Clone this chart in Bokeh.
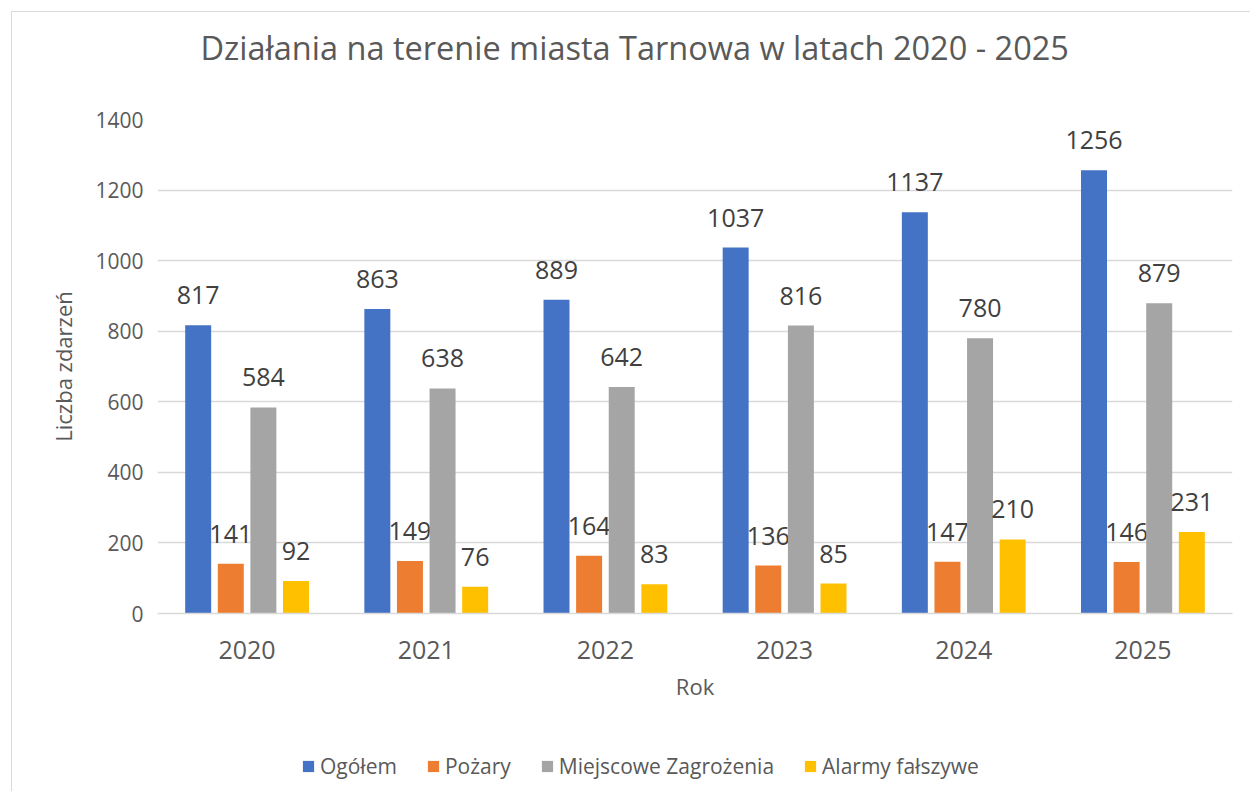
from bokeh.plotting import figure
from bokeh.models import ColumnDataSource, FactorRange, Legend, LegendItem, Title, Range1d
from bokeh.layouts import column
from bokeh.transform import dodge
from bokeh.core.properties import value
from bokeh.embed import file_html
from bokeh.resources import INLINE

years = ["2020", "2021", "2022", "2023", "2024", "2025"]
series_names = ["Ogółem", "Pożary", "Miejscowe Zagrożenia", "Alarmy fałszywe"]
ogolem = [817, 863, 889, 1037, 1137, 1256]
pozary = [141, 149, 164, 136, 147, 146]
miejscowe = [584, 638, 642, 816, 780, 879]
alarmy = [92, 76, 83, 85, 210, 231]
y_ticks = [0, 200, 400, 600, 800, 1000, 1200, 1400]
chart_title = "Działania na terenie miasta Tarnowa w latach 2020 - 2025"

colors = ["#4472C4", "#ED7D31", "#A5A5A5", "#FFC000"]
offsets = [-0.273, -0.091, 0.091, 0.273]

FONT = "Open Sans"
W = 1238


def blank(fig):
    fig.axis.visible = False
    fig.grid.visible = False
    fig.outline_line_color = None
    fig.background_fill_color = "white"
    fig.border_fill_color = "white"


# ---- title strip ----
tp = figure(width=W, height=83, x_range=Range1d(0, 1), y_range=Range1d(0, 1),
            output_backend="svg", toolbar_location=None,
            min_border_left=0, min_border_right=0, min_border_top=0, min_border_bottom=0)
blank(tp)
tp.add_layout(Title(text=chart_title, text_font=FONT, text_font_size="32.5px",
                    text_color="#595959", text_font_style="normal",
                    align="left", offset=43, standoff=21), "above")

# ---- main chart ----
p = figure(
    x_range=FactorRange(factors=years, range_padding=0),
    y_range=(0, 1400),
    width=W, height=625,
    output_backend="svg", toolbar_location=None,
    min_border_left=145, min_border_right=18,
    min_border_top=24, min_border_bottom=107,
)
p.outline_line_color = None
p.background_fill_color = "white"
p.border_fill_color = "white"

src = ColumnDataSource(dict(year=years, s0=ogolem, s1=pozary, s2=miejscowe, s3=alarmy,
                            l0=[str(v) for v in ogolem], l1=[str(v) for v in pozary],
                            l2=[str(v) for v in miejscowe], l3=[str(v) for v in alarmy]))

for i in range(4):
    p.vbar(x=dodge("year", offsets[i], range=p.x_range), top=f"s{i}", width=0.145,
           source=src, fill_color=colors[i], line_color=None)
    p.text(x=dodge("year", offsets[i], range=p.x_range), y=f"s{i}", text=f"l{i}",
           source=src, text_align="center", text_baseline="alphabetic",
           y_offset=-30, text_font=value(FONT), text_font_size="25px", text_color="#404040")

p.yaxis.ticker = y_ticks
p.yaxis.axis_line_color = None
p.yaxis.major_tick_line_color = None
p.yaxis.minor_tick_line_color = None
p.yaxis.major_label_text_font = FONT
p.yaxis.major_label_text_font_size = "21px"
p.yaxis.major_label_text_color = "#595959"
p.yaxis.major_label_standoff = 8
p.yaxis.axis_label = "Liczba zdarzeń"
p.yaxis.axis_label_text_font = FONT
p.yaxis.axis_label_text_font_size = "22px"
p.yaxis.axis_label_text_font_style = "normal"
p.yaxis.axis_label_text_color = "#595959"
p.yaxis.axis_label_standoff = 14

p.xaxis.axis_line_color = "#d9d9d9"
p.xaxis.axis_line_width = 1.5
p.xaxis.major_tick_line_color = None
p.xaxis.minor_tick_line_color = None
p.xaxis.major_label_text_font = FONT
p.xaxis.major_label_text_font_size = "25px"
p.xaxis.major_label_text_color = "#595959"
p.xaxis.major_label_standoff = 21
p.xaxis.axis_label = "Rok"
p.xaxis.axis_label_text_font = FONT
p.xaxis.axis_label_text_font_size = "22px"
p.xaxis.axis_label_text_font_style = "normal"
p.xaxis.axis_label_text_color = "#595959"
p.xaxis.axis_label_standoff = 9

p.xgrid.grid_line_color = None
p.ygrid.grid_line_color = "#d9d9d9"
p.ygrid.grid_line_width = 1.5

# ---- legend strip ----
lg = figure(width=W, height=71, x_range=Range1d(0, 1), y_range=Range1d(0, 1),
            output_backend="svg", toolbar_location=None,
            min_border_left=0, min_border_right=0, min_border_top=0, min_border_bottom=0)
blank(lg)
items = []
for i in range(4):
    # zero-size proxy glyph, used only for the legend swatch
    r = lg.vbar(x=[0], top=[0], bottom=[0], width=0, fill_color=colors[i], line_color=None)
    items.append(LegendItem(label=series_names[i], renderers=[r]))
legend = Legend(items=items, orientation="horizontal", location=(144, 11),
                label_text_font=FONT, label_text_font_size="21px", label_text_color="#595959",
                glyph_width=14, glyph_height=14, label_standoff=5, spacing=29,
                padding=0, margin=0, border_line_color=None, background_fill_alpha=0)
lg.add_layout(legend, "center")

layout = column(tp, p, lg, spacing=0)
layout.styles = {"margin-left": "11px", "margin-top": "11px",
                 "border-left": "1px solid #d9d9d9", "border-top": "1px solid #d9d9d9"}

open("out.html", "w").write(file_html(layout, INLINE))
